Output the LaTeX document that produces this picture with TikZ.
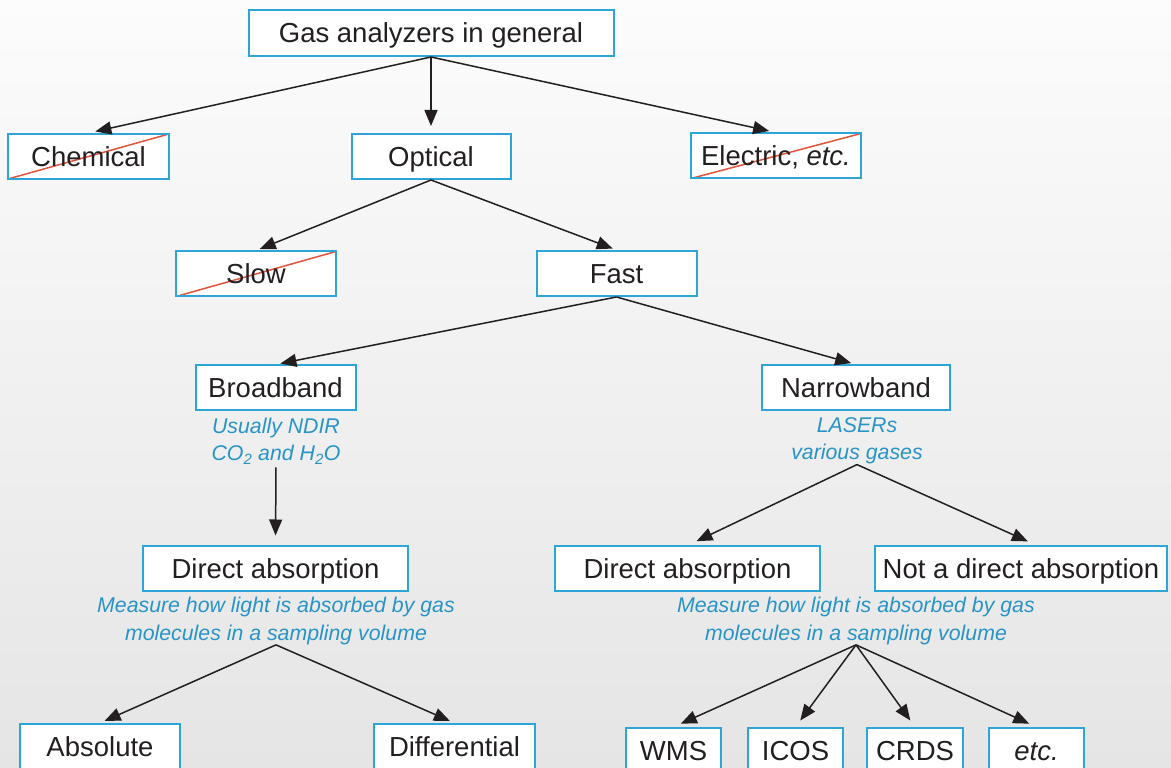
\documentclass[tikz,border=0pt]{standalone}
\usepackage{fontspec}
\setmainfont{Liberation Sans}
\usetikzlibrary{arrows.meta,positioning}
\definecolor{boxblue}{RGB}{45,165,215}
\definecolor{noteblue}{RGB}{40,148,198}
\definecolor{ink}{RGB}{35,31,32}
\definecolor{strikered}{RGB}{226,84,60}
\definecolor{bgtop}{RGB}{252,252,252}
\definecolor{bgbot}{RGB}{229,229,229}
\newcommand{\boxfont}{\fontsize{27.5}{33}\selectfont}
\newcommand{\notefont}{\fontsize{21.3}{27.5}\selectfont\itshape}
\tikzset{
	gabox/.style={draw=boxblue, line width=2pt, fill=white, text=ink, font=\boxfont,
		minimum width=160pt, minimum height=45pt, inner sep=0pt, text height=19.8pt, text depth=0pt},
	gastruck/.style={path picture={\draw[strikered, line width=1.5pt]
		(path picture bounding box.south west) -- (path picture bounding box.north east);}},
	ganote/.style={text=noteblue, font=\notefont, align=center, inner sep=0pt},
	galink/.style={-{Triangle[length=16pt,width=13pt]}, line width=1.5pt, draw=ink, shorten >=5pt}
}

\begin{document}
\begin{tikzpicture}[x=1pt,y=1pt]
	\useasboundingbox (0,0) rectangle (1171,768);
	\shade[top color=bgtop, bottom color=bgbot] (0,0) rectangle (1171,768);

	\node[gabox, minimum width=365pt, minimum height=46pt] (gas) at (431,735) {Gas analyzers in general};
	\node[gabox, gastruck, minimum width=161pt] (chem) at (88.5,611.5) {Chemical};
	\node[gabox, minimum width=159pt] (opt) at (431,611.5) {Optical};
	\node[gabox, gastruck, minimum width=170pt] (elec) at (776,612) {Electric, \textit{etc.}};
	\node[gabox, gastruck] (slow) at (256,494) {Slow};
	\node[gabox] (fast) at (616.5,494.5) {Fast};
	\node[gabox] (broad) at (275.5,380) {Broadband};
	\node[gabox, minimum width=188pt] (narrow) at (856,380) {Narrowband};
	\node[ganote] (bnote) at (276,327) {Usually NDIR\\CO\textsubscript{2} and H\textsubscript{2}O};
	\node[ganote] (nnote) at (857,327) {LASERs\\various gases};
	\node[gabox, minimum width=265pt] (dleft) at (275.5,199) {Direct absorption};
	\node[gabox, minimum width=265pt] (dright) at (687.5,199) {Direct absorption};
	\node[gabox, minimum width=292pt] (notd) at (1021,199) {Not a direct absorption};
	\node[ganote] (lnote) at (276,147) {Measure how light is absorbed by gas\\molecules in a sampling volume};
	\node[ganote] (rnote) at (856,147) {Measure how light is absorbed by gas\\molecules in a sampling volume};
	\node[gabox] (abs) at (100,21.5) {Absolute};
	\node[gabox, minimum width=161pt] (diff) at (454.5,21.5) {Differential};
	\node[gabox, minimum width=95pt] (wms) at (673.5,17.5) {WMS};
	\node[gabox, minimum width=95pt] (icos) at (795.5,17.5) {ICOS};
	\node[gabox, minimum width=96pt] (crds) at (915,17.5) {CRDS};
	\node[gabox, minimum width=95pt] (etcbox) at (1036.5,17.5) {\textit{etc.}};

	\draw[galink, shorten >=7pt] (gas.south) -- (chem.north);
	\draw[galink, shorten >=7pt] (gas.south) -- (opt.north);
	\draw[galink, shorten >=7pt] (gas.south) -- (elec.north);
	\draw[galink, shorten >=4pt] (opt.south) -- (slow.north);
	\draw[galink, shorten >=4pt] (opt.south) -- (fast.north);
	\draw[galink] (fast.south) -- (broad.north);
	\draw[galink] (fast.south) -- (narrow.north);
	\draw[galink, shorten >=10pt, shorten <=3pt] (bnote.south) -- (dleft.north);
	\draw[galink, shorten >=10pt] (nnote.south) -- (dright.north);
	\draw[galink, shorten >=10pt] (nnote.south) -- ([xshift=16pt]notd.north);
	\draw[galink] (lnote.south) -- (abs.north);
	\draw[galink] (lnote.south) -- (diff.north);
	\foreach \t in {wms,icos,crds,etcbox}
		\draw[galink, shorten >=8pt] (rnote.south) -- (\t.north);
\end{tikzpicture}
\end{document}
